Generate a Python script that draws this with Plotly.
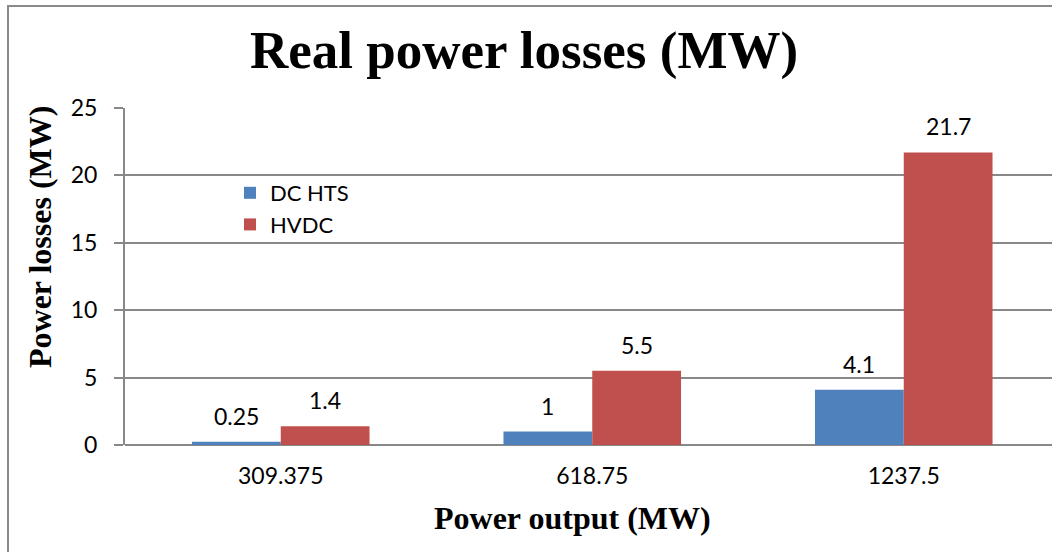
import plotly.graph_objects as go

categories = ["309.375", "618.75", "1237.5"]
dc_hts = [0.25, 1, 4.1]
hvdc = [1.4, 5.5, 21.7]
dc_labels = ["0.25", "1", "4.1"]
hvdc_labels = ["1.4", "5.5", "21.7"]

W, H = 1052, 552
L, R, T, B = 125, 0, 108, 107
pw = W - L - R
ph = H - T - B

def px_x(p):
    return (p - L) / pw

def px_y(p):
    return (H - B - p) / ph

blue = "#4F81BD"
red = "#C0504D"
grid = "#888888"
sans = "Lato"
serif = "Liberation Serif"

idx = list(range(len(categories)))

fig = go.Figure()
fig.add_trace(go.Bar(name="DC HTS", x=idx, y=dc_hts, marker=dict(color=blue, line=dict(width=0))))
fig.add_trace(go.Bar(name="HVDC", x=idx, y=hvdc, marker=dict(color=red, line=dict(width=0))))

bargap = 0.43
cat_px = 311.5
bar_w = cat_px * (1 - bargap) / 2

annotations = []
for i, v, t in zip(idx, dc_hts, dc_labels):
    annotations.append(dict(x=i, y=v, text=t, showarrow=False, xref="x", yref="y",
                            yanchor="bottom", xshift=-bar_w / 2, yshift=10,
                            font=dict(family=sans, size=23, color="#000")))
for i, v, t in zip(idx, hvdc, hvdc_labels):
    annotations.append(dict(x=i, y=v, text=t, showarrow=False, xref="x", yref="y",
                            yanchor="bottom", xshift=bar_w / 2, yshift=10,
                            font=dict(family=sans, size=23, color="#000")))

annotations.append(dict(text="<b>Real power losses (MW)</b>", x=px_x(524), y=px_y(50),
                        xref="paper", yref="paper", showarrow=False, xanchor="center", yanchor="middle",
                        font=dict(family=serif, size=53, color="#000")))
annotations.append(dict(text="<b>Power output (MW)</b>", x=px_x(572), y=px_y(518),
                        xref="paper", yref="paper", showarrow=False, xanchor="center", yanchor="middle",
                        font=dict(family=serif, size=32, color="#000")))
annotations.append(dict(text="<b>Power losses (MW)</b>", x=px_x(40), y=px_y(237),
                        xref="paper", yref="paper", showarrow=False, xanchor="center", yanchor="middle",
                        textangle=-90,
                        font=dict(family=serif, size=32, color="#000")))

fig.update_layout(
    width=W, height=H,
    margin=dict(l=L, r=R, t=T, b=B, pad=0),
    paper_bgcolor="white", plot_bgcolor="white",
    barmode="group", bargap=bargap, bargroupgap=0,
    showlegend=True,
    legend=dict(x=px_x(230), y=px_y(172), xanchor="left", yanchor="top",
                font=dict(family=sans, size=22, color="#000"),
                bgcolor="rgba(0,0,0,0)", tracegroupgap=2, itemwidth=30),
    annotations=annotations,
    shapes=[dict(type="rect", xref="paper", yref="paper",
                 x0=px_x(8), x1=px_x(1070), y0=px_y(570), y1=px_y(6),
                 line=dict(color="#8a8a8a", width=2), layer="below")],
)

fig.update_xaxes(range=[-0.5, -0.5 + pw / cat_px],
                 tickmode="array", tickvals=idx, ticktext=categories,
                 showgrid=False, showline=False, ticks="", zeroline=False,
                 tickfont=dict(family=sans, size=23, color="#000"), ticklabelstandoff=15)
fig.update_yaxes(range=[0, 25], dtick=5, showgrid=True, gridcolor=grid, gridwidth=1.5,
                 zeroline=True, zerolinecolor=grid, zerolinewidth=2,
                 showline=True, linecolor=grid, linewidth=2,
                 ticks="outside", ticklen=9, tickcolor=grid, tickwidth=2,
                 tickfont=dict(family=sans, size=23, color="#000"), ticklabelstandoff=12)

fig.write_html("out.html", config={"displayModeBar": False},
               post_script="document.body.style.margin='0';")
